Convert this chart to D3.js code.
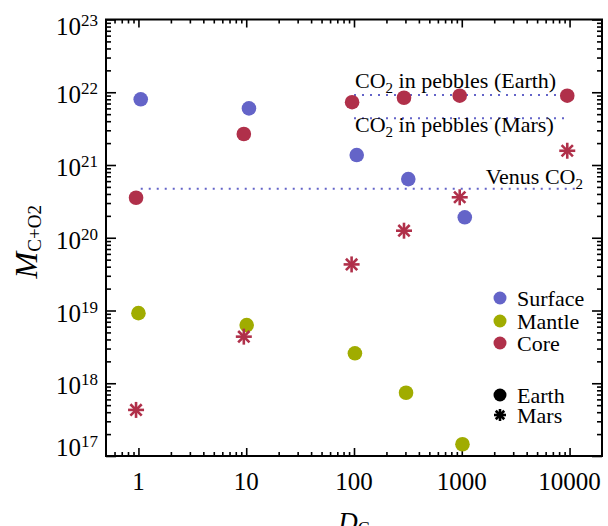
<!DOCTYPE html>
<html>
<head>
<meta charset="utf-8">
<script src="https://cdn.jsdelivr.net/npm/d3@7"></script>
<style>
  html, body { margin: 0; padding: 0; background: #fff; }
  svg { display: block; }
  text { font-family: "Liberation Serif", "DejaVu Serif", serif; fill: #000; }
</style>
</head>
<body>
<svg id="chart" width="608" height="526"></svg>
<script>
// ---- data -------------------------------------------------------------
// Earth runs: partition coefficient D_C vs. carbon+oxygen mass per reservoir
const surfaceDC   = [1.05, 10.6, 106, 319, 1066];
const surfaceMass = [8.0e21, 6.0e21, 1.37e21, 6.4e20, 1.91e20];

const mantleDC    = [1.0, 10.1, 102, 304, 1015];
const mantleMass  = [9.2e18, 6.3e18, 2.58e18, 7.4e17, 1.45e17];

const coreDC      = [0.95, 9.5, 96, 291, 957, 9520];
const coreMass    = [3.55e20, 2.67e21, 7.3e21, 8.4e21, 8.97e21, 8.97e21];

// Mars runs (core reservoir)
const marsCoreDC   = [0.95, 9.5, 95, 291, 957, 9520];
const marsCoreMass = [4.3e17, 4.37e18, 4.3e19, 1.25e20, 3.6e20, 1.57e21];

// Reference levels
const refNames  = ["pebblesEarth", "pebblesMars", "venus"];
const refMass   = [9.2e21, 4.4e21, 4.7e20];
const refFrom   = [100, 100, 1.05];
const refTo     = [10000, 10000, 12500];

// Axis ticks
const xTickValues = [1, 10, 100, 1000, 10000];
const xTickLabels = ["1", "10", "100", "1000", "10000"];
const yTickExps   = [17, 18, 19, 20, 21, 22, 23];

// Legend entries
const legendNames  = ["Surface", "Mantle", "Core"];
const planetNames  = ["Earth", "Mars"];

// ---- layout -----------------------------------------------------------
const colSurface = "#6464c8";
const colMantle  = "#a0ac00";
const colCore    = "#b0304a";

const plotL = 106, plotR = 602, plotT = 19.5, plotB = 456;

const x = d3.scaleLog().domain([0.5, 2e4]).range([plotL, plotR]);
const y = d3.scaleLog().domain([1e17, 1e23]).range([plotB, plotT]);

const svg = d3.select("#chart");

// minor tick values
function minors(lo, hi) {
  const out = [];
  for (let e = Math.floor(Math.log10(lo)); e <= Math.ceil(Math.log10(hi)); e++) {
    for (let m = 2; m <= 9; m++) {
      const v = m * Math.pow(10, e);
      if (v > lo * 1.0001 && v < hi * 0.9999) out.push(v);
    }
  }
  return out;
}
const xMinor = minors(0.5, 2e4);
const yMinor = minors(1e17, 1e23);
const yMajor = yTickExps.map(e => Math.pow(10, e));

// ---- axes (ticks on all four sides, pointing inward) -------------------
function styleAxis(g) {
  g.selectAll("path.domain").remove();
  g.selectAll("line").attr("stroke", "#000").attr("stroke-width", 1.6);
  g.selectAll("text").remove();
}
const gx = svg.append("g");
gx.append("g").attr("transform", `translate(0,${plotB})`)
  .call(d3.axisBottom(x).tickValues(xTickValues).tickSize(-8)).call(styleAxis);
gx.append("g").attr("transform", `translate(0,${plotB})`)
  .call(d3.axisBottom(x).tickValues(xMinor).tickSize(-4)).call(styleAxis);
gx.append("g").attr("transform", `translate(0,${plotT})`)
  .call(d3.axisTop(x).tickValues(xTickValues).tickSize(-8)).call(styleAxis);
gx.append("g").attr("transform", `translate(0,${plotT})`)
  .call(d3.axisTop(x).tickValues(xMinor).tickSize(-4)).call(styleAxis);

const gy = svg.append("g");
gy.append("g").attr("transform", `translate(${plotL},0)`)
  .call(d3.axisLeft(y).tickValues(yMajor).tickSize(-10)).call(styleAxis);
gy.append("g").attr("transform", `translate(${plotL},0)`)
  .call(d3.axisLeft(y).tickValues(yMinor).tickSize(-5)).call(styleAxis);
gy.append("g").attr("transform", `translate(${plotR},0)`)
  .call(d3.axisRight(y).tickValues(yMajor).tickSize(-10)).call(styleAxis);
gy.append("g").attr("transform", `translate(${plotR},0)`)
  .call(d3.axisRight(y).tickValues(yMinor).tickSize(-5)).call(styleAxis);

// frame
svg.append("rect")
  .attr("x", plotL).attr("y", plotT)
  .attr("width", plotR - plotL).attr("height", plotB - plotT)
  .attr("fill", "none").attr("stroke", "#000").attr("stroke-width", 2);

// x tick labels
svg.append("g").selectAll("text").data(xTickValues).join("text")
  .attr("x", d => x(d)).attr("y", 490)
  .attr("text-anchor", "middle").attr("font-size", 25)
  .text((d, i) => xTickLabels[i]);

// y tick labels: 10^n, end labels kept inside the axis span
const yl = svg.append("g").selectAll("text").data(yTickExps).join("text")
  .attr("x", 98)
  .attr("y", e => Math.min(Math.max(y(Math.pow(10, e)) + 11, 35), 456))
  .attr("text-anchor", "end").attr("font-size", 25);
yl.append("tspan").text("10");
yl.append("tspan").attr("font-size", 17).attr("dy", -9).text(e => e);

// axis titles
const xt = svg.append("text").attr("x", (plotL + plotR) / 2).attr("y", 531)
  .attr("text-anchor", "middle").attr("font-size", 27);
xt.append("tspan").attr("font-style", "italic").text("D");
xt.append("tspan").attr("font-size", 18).attr("dy", 4).text("C");

const yt = svg.append("text")
  .attr("transform", `translate(37,${(plotT + plotB) / 2 + 4}) rotate(-90)`)
  .attr("text-anchor", "middle").attr("font-size", 32);
yt.append("tspan").attr("font-style", "italic").text("M");
yt.append("tspan").attr("font-size", 19).attr("dy", 4).text("C+O2");

// ---- reference levels --------------------------------------------------
svg.append("g").selectAll("line").data(refNames).join("line")
  .attr("x1", (d, i) => x(refFrom[i])).attr("x2", (d, i) => x(refTo[i]))
  .attr("y1", (d, i) => y(refMass[i])).attr("y2", (d, i) => y(refMass[i]))
  .attr("stroke", colSurface).attr("stroke-width", 2)
  .attr("stroke-dasharray", "2,6");

function co2Label(xp, yp, anchor, before, after) {
  const t = svg.append("text").attr("x", xp).attr("y", yp)
    .attr("text-anchor", anchor).attr("font-size", 22);
  if (before) t.append("tspan").text(before);
  t.append("tspan").text("CO");
  t.append("tspan").attr("font-size", 15).attr("dy", 5).text("2");
  if (after) t.append("tspan").attr("dy", -5).text(after);
}
co2Label(355, 88, "start", "", " in pebbles (Earth)");
co2Label(355, 132, "start", "", " in pebbles (Mars)");
co2Label(583, 184, "end", "Venus ", "");

// ---- markers ------------------------------------------------------------
function dots(xs, ys, color) {
  svg.append("g").selectAll("circle").data(xs).join("circle")
    .attr("cx", d => x(d)).attr("cy", (d, i) => y(ys[i]))
    .attr("r", 7.3).attr("fill", color);
}
dots(surfaceDC, surfaceMass, colSurface);
dots(mantleDC, mantleMass, colMantle);
dots(coreDC, coreMass, colCore);

function asterisk(g, cx, cy, r, color, w) {
  const a = g.append("g").attr("transform", `translate(${cx},${cy})`);
  for (let k = 0; k < 4; k++) {
    const ang = k * Math.PI / 4;
    a.append("line")
      .attr("x1", -r * Math.cos(ang)).attr("y1", -r * Math.sin(ang))
      .attr("x2", r * Math.cos(ang)).attr("y2", r * Math.sin(ang))
      .attr("stroke", color).attr("stroke-width", w);
  }
}
const gm = svg.append("g");
marsCoreDC.forEach((d, i) => asterisk(gm, x(d), y(marsCoreMass[i]), 8, colCore, 2.6));

// ---- legend -------------------------------------------------------------
const legColors = [colSurface, colMantle, colCore];
const legY = [298, 321, 343];
legendNames.forEach((n, i) => {
  svg.append("circle").attr("cx", 500).attr("cy", legY[i]).attr("r", 6.5).attr("fill", legColors[i]);
  svg.append("text").attr("x", 517).attr("y", legY[i] + 7.5).attr("font-size", 22).text(n);
});
const planY = [395, 415];
svg.append("circle").attr("cx", 500).attr("cy", planY[0]).attr("r", 6.5).attr("fill", "#000");
asterisk(svg, 500, planY[1], 6, "#000", 2.6);
planetNames.forEach((n, i) => {
  svg.append("text").attr("x", 517).attr("y", planY[i] + 7.5).attr("font-size", 22).text(n);
});
</script>
</body>
</html>
